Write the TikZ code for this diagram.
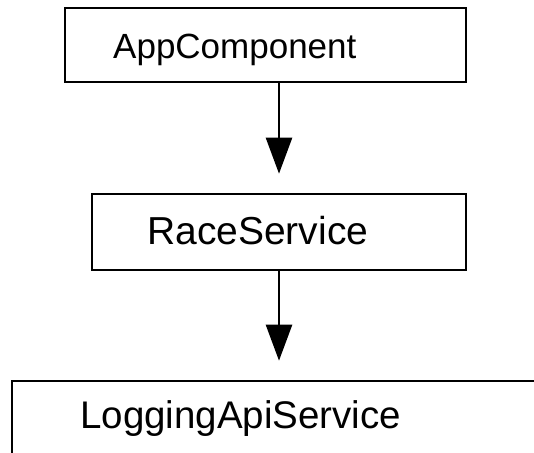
\documentclass[tikz,border=0pt]{standalone}
\usepackage{fontspec}
\setmainfont{Liberation Sans}
\usepackage{tikz}
\usetikzlibrary{arrows.meta}
\usetikzlibrary{calc}

\begin{document}
\begin{tikzpicture}[x=1pt, y=1pt,
    box/.style={draw, line width=2.6pt, inner sep=0pt},
    label text/.style={anchor=base west, inner sep=0pt},
    flow/.style={line width=2.6pt, -{Triangle[length=36pt, width=26pt]}, shorten >=19pt}]

  \useasboundingbox (0,0) rectangle (534,452);

  % Boxes
  \node[box, minimum width=401pt, minimum height=74pt] (App) at (265.5,407) {};
  \node[box, minimum width=374pt, minimum height=76pt] (Race) at (279,220) {};
  % the last one runs off the page
  \node[box, minimum width=588pt, minimum height=89pt] (Logging) at (306,26.5) {};

  % Names in the boxes
  \node[label text, font=\fontsize{35}{40}\selectfont] (AppName) at (113,393) {AppComponent};
  \node[label text, font=\fontsize{39}{44}\selectfont] (RaceName) at (147,207) {RaceService};
  \node[label text, font=\fontsize{38.5}{44}\selectfont] (LoggingName) at (80,24) {LoggingApiService};

  % Dependencies
  \draw[flow] (App.south -| Race.north) -- (Race.north);
  \draw[flow] (Race.south) -- (Race.south |- Logging.north);

\end{tikzpicture}
\end{document}
